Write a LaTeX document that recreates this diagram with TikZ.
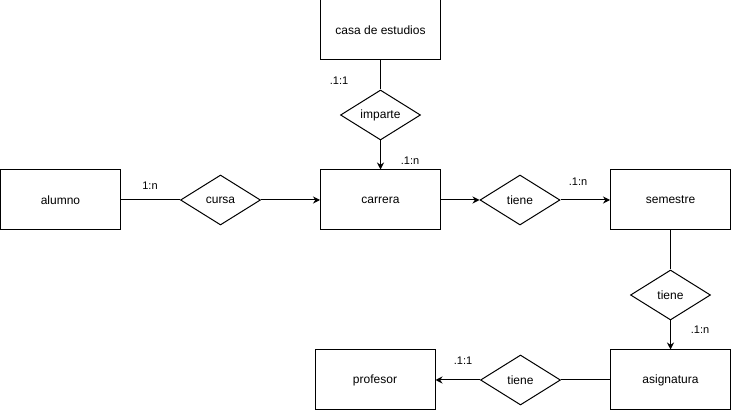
\documentclass[tikz,border=0pt]{standalone}
\usepackage{fontspec}
\setmainfont{Liberation Sans}
\usetikzlibrary{shapes.geometric,arrows.meta}
\begin{document}
\begin{tikzpicture}[x=1pt,y=-1pt,
  ent/.style={draw,line width=1pt,minimum width=120pt,minimum height=60pt,inner sep=0pt,font=\fontsize{12}{14}\selectfont},
  rel/.style={draw,diamond,aspect=1.6,line width=1pt,minimum width=80pt,minimum height=50pt,inner sep=0pt,font=\fontsize{12}{14}\selectfont},
  con/.style={line width=1pt},
  arr/.style={line width=1pt,-{Stealth[length=7pt,width=7pt]}},
  lab/.style={inner sep=0pt,font=\fontsize{11}{13}\selectfont}]
\useasboundingbox (0,0) rectangle (731,411);
\node[ent] (casa) at (380.5,30) {casa de estudios};
\node[ent] (alumno) at (60.5,200) {alumno};
\node[ent] (carrera) at (380.5,200) {carrera};
\node[ent] (semestre) at (670.5,200) {semestre};
\node[ent] (asig) at (670.5,380) {asignatura};
\node[ent] (prof) at (375,380) {profesor};
\node[rel] (imparte) at (380.5,115) {imparte};
\node[rel] (cursa) at (220.5,200) {cursa};
\node[rel] (tiene1) at (520,200) {tiene};
\node[rel] (tiene2) at (670.5,295) {tiene};
\node[rel] (tiene3) at (520.5,380) {tiene};
\draw[con] (casa) -- (imparte);
\draw[arr] (imparte) -- (carrera);
\draw[con] (alumno) -- (cursa);
\draw[arr] (cursa) -- (carrera);
\draw[arr] (carrera) -- (tiene1);
\draw[arr] (tiene1) -- (semestre);
\draw[con] (semestre) -- (tiene2);
\draw[arr] (tiene2) -- (asig);
\draw[con] (asig) -- (tiene3);
\draw[arr] (tiene3) -- (prof);
\node[lab] (l1) at (339,81) {.1:1};
\node[lab] (l2) at (410,161) {.1:n};
\node[lab] (l3) at (150,186) {1:n};
\node[lab] (l4) at (578,182) {.1:n};
\node[lab] (l5) at (700,330) {.1:n};
\node[lab] (l6) at (463,361) {.1:1};
\end{tikzpicture}
\end{document}
